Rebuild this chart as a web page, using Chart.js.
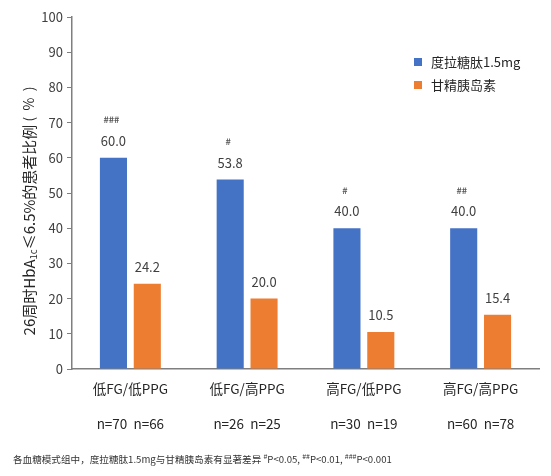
<!DOCTYPE html>
<html>
<head>
<meta charset="utf-8">
<script src="https://cdn.jsdelivr.net/npm/chart.js@4"></script>
<style>
  body { margin: 0; background: #fff; }
  #wrap { position: relative; width: 551px; height: 476px; }
  #note { position: absolute; left: 13px; top: 451px; font: 9.6px "Noto Sans CJK SC", sans-serif; color: #333; white-space: nowrap; }
  #note sup { font-size: 7px; }
</style>
</head>
<body>
<div id="wrap">
  <canvas id="myChart" width="551" height="476"></canvas>
  <div id="note">各血糖模式组中，度拉糖肽1.5mg与甘精胰岛素有显著差异 <sup>#</sup>P&lt;0.05, <sup>##</sup>P&lt;0.01, <sup>###</sup>P&lt;0.001</div>
</div>
<script>
const groups = ['低FG/低PPG', '低FG/高PPG', '高FG/低PPG', '高FG/高PPG'];
const nCounts = ['n=70  n=66', 'n=26  n=25', 'n=30  n=19', 'n=60  n=78'];
const dulaglutide = [60.0, 53.8, 40.0, 40.0];
const glargine = [24.2, 20.0, 10.5, 15.4];
const signif = ['###', '#', '#', '##'];
const yTicks = [0, 10, 20, 30, 40, 50, 60, 70, 80, 90, 100];

const font = '"Noto Sans CJK SC", "Noto Sans", sans-serif';
const ctx = document.getElementById('myChart');

// value labels, significance marks, legend and y title
const extras = {
  id: 'extras',
  afterDatasetsDraw(chart) {
    const c = chart.ctx;
    c.save();
    c.textAlign = 'center';
    c.textBaseline = 'middle';
    chart.data.datasets.forEach((ds, i) => {
      chart.getDatasetMeta(i).data.forEach((bar, j) => {
        c.fillStyle = '#404040';
        c.font = '13px ' + font;
        c.fillText(ds.data[j].toFixed(1), bar.x, bar.y - 17);
        if (i === 0) {
          c.fillStyle = '#555';
          c.font = 'bold 9px ' + font;
          c.fillText(signif[j], bar.x - 2, bar.y - 38);
        }
      });
    });

    // legend
    c.textAlign = 'left';
    chart.data.datasets.forEach((ds, i) => {
      const y = 62 + i * 23;
      c.fillStyle = ds.backgroundColor;
      c.fillRect(414, y - 4, 8, 8);
      c.fillStyle = '#262626';
      c.font = '13px ' + font;
      c.fillText(ds.label, 431, y);
    });

    // y axis title with subscript
    c.translate(29, 211);
    c.rotate(-Math.PI / 2);
    const parts = [['26周时HbA', 15, 0], ['1c', 9.5, 4], ['≤6.5%的患者比例', 15, 0], [' (  %  )', 14, 0]];
    let total = 0;
    parts.forEach(p => { c.font = p[1] + 'px ' + font; total += c.measureText(p[0]).width; });
    let x = -total / 2;
    c.fillStyle = '#262626';
    parts.forEach(p => {
      c.font = p[1] + 'px ' + font;
      c.fillText(p[0], x, p[2]);
      x += c.measureText(p[0]).width;
    });
    c.restore();
  }
};

new Chart(ctx, {
  type: 'bar',
  data: {
    labels: groups.map((g, i) => [g, '', nCounts[i]]),
    datasets: [
      { label: '度拉糖肽1.5mg', data: dulaglutide, backgroundColor: '#4472C4' },
      { label: '甘精胰岛素', data: glargine, backgroundColor: '#ED7D31' }
    ]
  },
  options: {
    responsive: false,
    animation: false,
    layout: { padding: { top: 17, right: 12, left: 0, bottom: 0 } },
    categoryPercentage: 0.58,
    barPercentage: 0.8,
    plugins: { legend: { display: false }, tooltip: { enabled: false } },
    scales: {
      x: {
        grid: { display: false },
        border: { display: true, color: '#7f7f7f', width: 1.5 },
        ticks: { color: '#262626', padding: 3, font: { family: font, size: 13.5, lineHeight: 1.3 }, maxRotation: 0 },
        afterFit(scale) { scale.height = 107; }
      },
      y: {
        min: 0,
        max: 100,
        afterBuildTicks(scale) { scale.ticks = yTicks.map(v => ({ value: v })); },
        grid: { display: true, drawOnChartArea: false, drawTicks: true, tickLength: 5, color: '#7f7f7f' },
        border: { display: true, color: '#7f7f7f', width: 1.5 },
        ticks: { color: '#404040', padding: 4, font: { family: font, size: 13 } },
        afterFit(scale) { scale.width = 72; }
      }
    }
  },
  plugins: [extras]
});
</script>
</body>
</html>
